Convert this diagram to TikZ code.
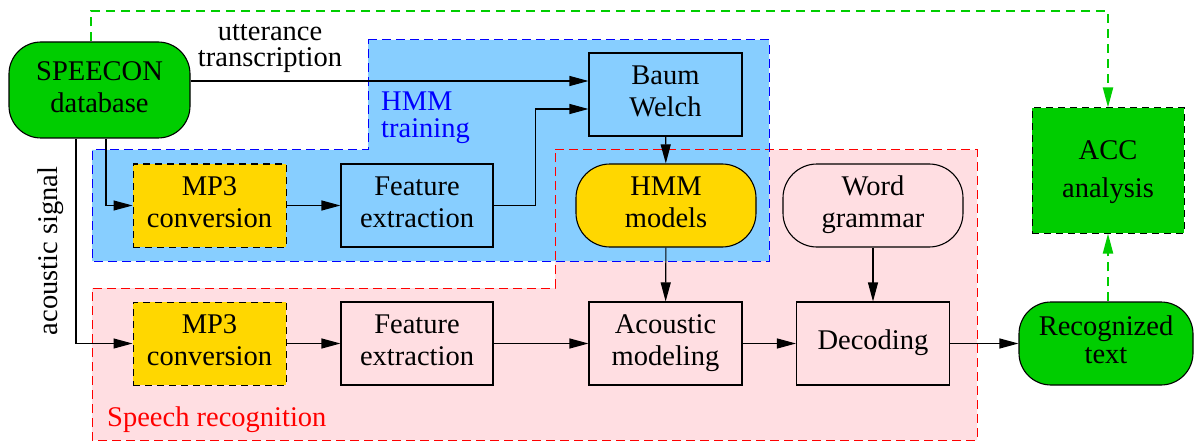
\documentclass[tikz,border=0pt]{standalone}
\usepackage{fontspec}
\newfontfamily\tmsfont{Liberation Serif}
\usetikzlibrary{arrows.meta,calc}
\definecolor{gfill}{RGB}{0,205,0}
\definecolor{bfill}{RGB}{135,206,255}
\definecolor{pfill}{RGB}{255,222,226}
\definecolor{gold}{RGB}{255,215,0}
\begin{document}
\begin{tikzpicture}[x=1pt,y=-1pt,
  every node/.style={font=\tmsfont\fontsize{28.5}{32}\selectfont, align=center, inner sep=0pt},
  box/.style={draw, line width=1.1pt, minimum width=153pt, minimum height=83pt},
  rbox/.style={box, rounded corners=34pt},
  dbox/.style={box, line width=1pt, dash pattern=on 7pt off 5pt},
  region/.style={line width=1pt, dash pattern=on 9pt off 5pt},
  arr/.style={line width=1.1pt, -{Triangle[length=19pt,width=10pt]}},
  garr/.style={draw=gfill, line width=2pt, dash pattern=on 9pt off 6pt, -{Triangle[length=20pt,width=10pt]}}
]
\useasboundingbox (0,0) rectangle (1194,441);
% regions
\fill[pfill] (555,150) -- (977,150) -- (977,440) -- (92,440) -- (92,288) -- (555,288) -- cycle;
\fill[bfill] (368,40) -- (769,40) -- (769,261) -- (92,261) -- (92,150) -- (368,150) -- cycle;
\draw[region, red] (555,150) -- (977,150) -- (977,440) -- (92,440) -- (92,288) -- (555,288) -- cycle;
\draw[region, blue] (368,40) -- (769,40) -- (769,261) -- (92,261) -- (92,150) -- (368,150) -- cycle;

% nodes
\node[rbox, fill=gfill, minimum width=181pt, minimum height=96pt, rounded corners=32pt] (speecon) at (99.5,90) {\strut SPEECON\\database\strut};
\node[box, fill=bfill] (bw) at (665.5,94.5) {\strut Baum\\Welch\strut};
\node[rbox, fill=gold, minimum width=180pt] (hmm) at (666,205.5) {\strut HMM\\models\strut};
\node[rbox, fill=pfill, minimum width=180pt] (wg) at (873,205.5) {\strut Word\\grammar\strut};
\node[dbox, fill=gold] (mp3t) at (209.5,205.5) {\strut MP3\\conversion\strut};
\node[box, fill=bfill, minimum width=152pt] (fet) at (417,205.5) {\strut Feature\\extraction\strut};
\node[dbox, fill=gold] (mp3b) at (209.5,343.5) {\strut MP3\\conversion\strut};
\node[box, fill=pfill, minimum width=152pt] (feb) at (417,343.5) {\strut Feature\\extraction\strut};
\node[box, fill=pfill] (ac) at (665.5,343.5) {\strut Acoustic\\modeling\strut};
\node[box, fill=pfill] (dec) at (873,343.5) {\strut Decoding\strut};
\node[rbox, fill=gfill, minimum width=174pt, rounded corners=32pt, font=\tmsfont\fontsize{28.5}{28}\selectfont] (rec) at (1106,343.5) {\strut Recognized\\text\strut};
\node[dbox, fill=gfill, minimum width=152pt, minimum height=125pt, font=\tmsfont\fontsize{28.5}{38}\selectfont] (acc) at (1108,170.5) {\strut ACC\\analysis\strut};

% labels
\node[font=\tmsfont\fontsize{28.5}{26}\selectfont] (utt) at (270,49) {utterance\\transcription};
\node[anchor=north west, align=left, text=blue, font=\tmsfont\fontsize{28.5}{27}\selectfont] (hmmtr) at (381,91) {\strut HMM\\training\strut};
\node[anchor=base west, text=red] (sr) at (107,426) {Speech recognition};
\node[rotate=90, anchor=base] (acs) at (57,251) {acoustic signal};

% connectors
\draw[arr] ($(speecon.east)+(0,-9)$) -- ($(bw.west)+(0,-13.5)$);
\draw[arr] (fet.east) -- ++(42,0) |- ($(bw.west)+(0,14.5)$);
\draw[arr] ($(speecon.south)+(6.5,0)$) |- (mp3t.west);
\draw[arr] ($(speecon.south)+(-23.5,0)$) |- (mp3b.west);
\draw[arr] (mp3t) -- (fet);
\draw[arr] (mp3b) -- (feb);
\draw[arr] (feb) -- (ac);
\draw[arr] (ac) -- (dec);
\draw[arr] (dec) -- (rec);
\draw[arr] (bw) -- (hmm);
\draw[arr] (hmm) -- (ac);
\draw[arr] (wg) -- (dec);
\draw[garr] ($(speecon.north)+(-8.5,0)$) -- ++(0,-30) -| (acc.north);
\draw[garr] (rec.north -| acc.south) -- (acc.south);
\end{tikzpicture}
\end{document}
